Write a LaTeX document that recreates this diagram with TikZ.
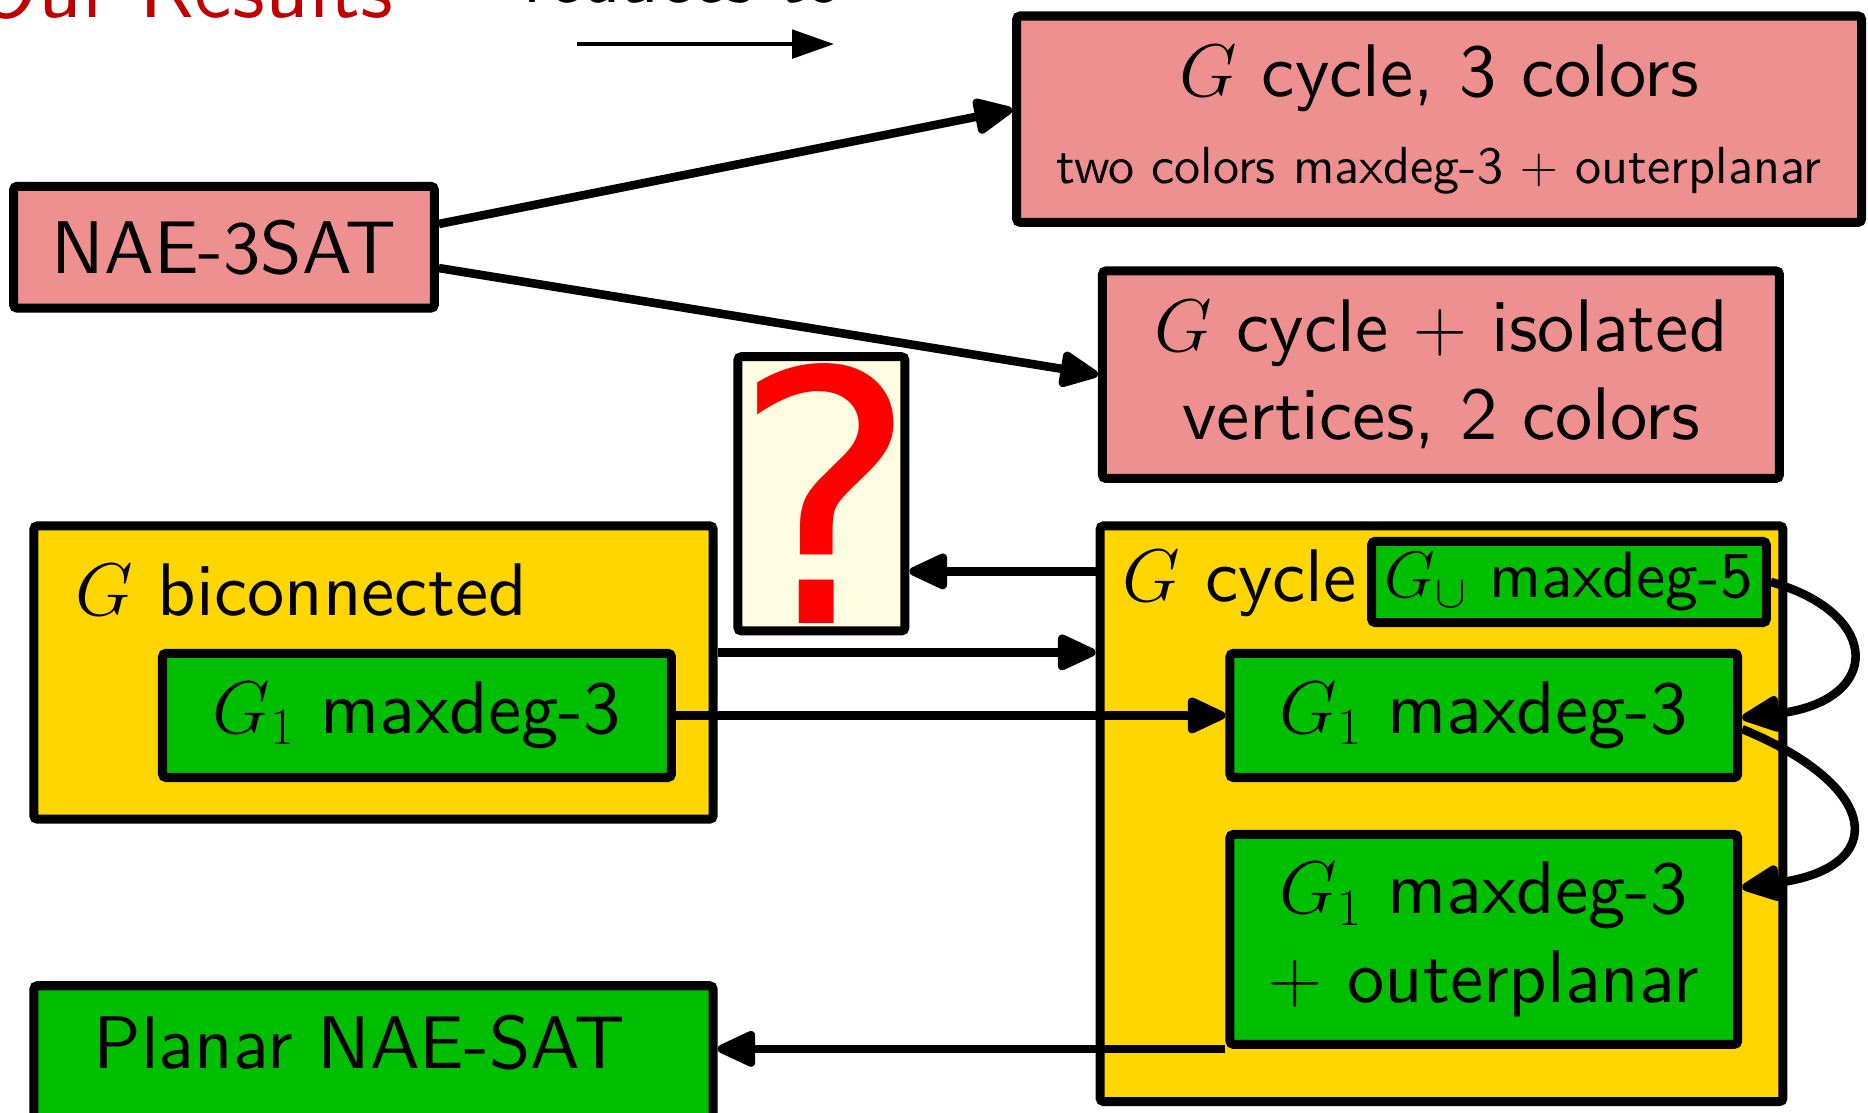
\RequirePackage{fix-cm}
\documentclass[tikz,border=0pt]{standalone}
\usepackage{fontspec}
\newfontfamily\lmsf{lmsans10-regular.otf}
\newfontfamily\qfont{DejaVu Sans}
\usetikzlibrary{arrows.meta,calc}
\definecolor{redfill}{RGB}{238,144,144}
\definecolor{yelfill}{RGB}{255,214,0}
\definecolor{grnfill}{RGB}{0,191,0}
\definecolor{qfill}{RGB}{255,253,225}
\definecolor{titlered}{RGB}{192,0,0}
\definecolor{qred}{RGB}{255,0,0}
\tikzset{
  boxsty/.style={draw=black, line width=3.8pt, rounded corners=1.5pt, inner sep=0pt},
  redbox/.style={boxsty, fill=redfill},
  yelbox/.style={boxsty, fill=yelfill},
  grnbox/.style={boxsty, fill=grnfill},
  qbox/.style={boxsty, fill=qfill},
  sz/.style 2 args={minimum width=#1, minimum height=#2},
  txt/.style={font=\lmsf\fontsize{31.3}{37}\selectfont},
  smalltxt/.style={font=\lmsf\fontsize{27.5}{33}\selectfont},
  lbl/.style={txt, inner sep=0pt, anchor=base west},
  arr/.style={line width=3.6pt, -{Triangle[length=18.5pt,width=16pt,round]}},
  legarr/.style={line width=1.4pt, -{Triangle[length=17.5pt,width=12pt]}}
}
\begin{document}
\begin{tikzpicture}[x=0.5pt,y=-0.5pt]
\useasboundingbox (0,0) rectangle (1568,934);
\clip (0,0) rectangle (1568,934);

% legend
\node[font=\lmsf\fontsize{35.7}{40}\selectfont, text=titlered, inner sep=0pt, anchor=base east] (title) at (330,15) {Our Results};
\node[txt, inner sep=0pt, anchor=base east] (legtxt) at (708,2.5) {reduces to};
\coordinate (lg1) at (484,37);
\coordinate (lg2) at (700,37);
\draw[legarr] (lg1) -- (lg2);

% red boxes
\node[redbox, txt, sz={176.6pt}{51.1pt}] (NAE) at (188,207.5) {NAE-3SAT};
\node[redbox, txt, align=center, sz={354.6pt}{86.6pt}] (R1) at (1208,100)
  {$G$ cycle, 3 colors\\[-0.5pt] {\fontsize{21.9}{26}\selectfont two colors maxdeg-3 $+$ outerplanar}};
\node[redbox, txt, align=center, sz={284.1pt}{87.1pt}] (R2) at (1209.5,314.5)
  {$G$ cycle $+$ isolated\\ vertices, 2 colors};

% question box
\node[qbox, text=qred, font=\qfont\fontsize{147}{150}\selectfont, sz={70.1pt}{115.1pt}] (Q) at (689.5,414.5) {\makebox[0pt]{\hspace{3pt}?}};

% yellow boxes
\node[yelbox, sz={285.1pt}{123.1pt}] (LY) at (313.5,564.5) {};
\node[lbl] (LYlab) at (63,517) {$G$ biconnected};
\node[yelbox, sz={286.6pt}{241.6pt}] (RY) at (1210,683) {};
\node[lbl] (RYlab) at (942,505) {$G$ cycle};

% green boxes
\node[grnbox, txt, sz={213.6pt}{52.1pt}] (LG) at (350,600.5) {$G_1$ maxdeg-3};
\node[grnbox, smalltxt, sz={165.6pt}{34.1pt}] (GU) at (1317,488.5) {$G_\cup$ maxdeg-5};
\node[grnbox, txt, sz={213.1pt}{52.1pt}] (RG1) at (1245.5,600.5) {$G_1$ maxdeg-3};
\node[grnbox, txt, align=center, sz={213.1pt}{88.1pt}] (RG2) at (1245.5,788.5) {$G_1$ maxdeg-3\\$+$ outerplanar};
\node[grnbox, sz={285.1pt}{56.1pt}] (PL) at (313.5,883.5) {};
\node[lbl] (PLlab) at (78,897) {Planar NAE-SAT};

% arrows
\draw[arr] ($(NAE.east)+(0,-19.5)$) -- ($(R1.west)+(0,-8)$);
\draw[arr] ($(NAE.east)+(0,17.5)$) -- (R2.west);
\draw[arr] ($(RY.north west)+(0,42)$) coordinate (a3) -- (a3 -| Q.east);
\draw[arr] ($(LY.north east)+(0,110)$) coordinate (a4) -- (a4 -| RY.west);
\draw[arr] (LG.east) -- (RG1.west);
\draw[arr] (GU.east) .. controls ($(GU.east)+(94,26.5)$) and ($(RG1.east)+(118,-12)$) .. ($(RG1.east)+(0,2)$);
\draw[arr] ($(RG1.east)+(0,11.5)$) .. controls ($(RG1.east)+(118,60)$) and ($(RG2.east)+(123,-60)$) .. ($(RG2.east)+(0,-43.5)$);
\draw[arr] (RG2.south west) -- (RG2.south west -| PL.east);
\end{tikzpicture}
\end{document}
